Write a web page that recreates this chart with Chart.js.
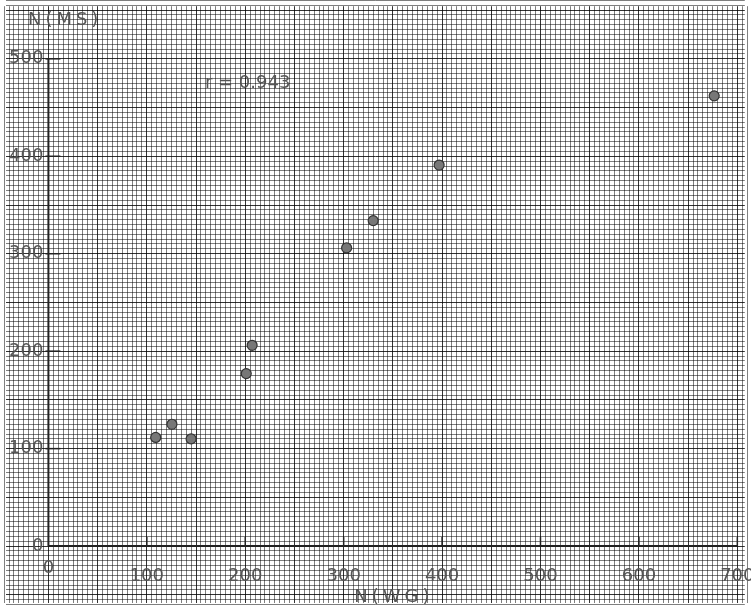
<!DOCTYPE html>
<html>
<head>
<meta charset="utf-8">
<script src="https://cdn.jsdelivr.net/npm/chart.js@4"></script>
<style>
  body { margin: 0; background: #fff; }
  canvas { display: block; }
</style>
</head>
<body>
<canvas id="chart" width="751" height="609"></canvas>
<script>
// data
const nWG = [109, 125.5, 145, 201, 207, 303, 330, 397, 676.5];
const nMS = [111.5, 125, 110, 177, 206, 306, 334, 391, 462];

const xTicks = [0, 100, 200, 300, 400, 500, 600, 700];
const yTicks = [0, 100, 200, 300, 400, 500];
const xTitle = 'N(WG)';
const yTitle = 'N(MS)';
const note = 'r = 0.943';

//Graph paper lines every 5 units
const paperX = [];
for (let v = -50; v <= 715; v += 5) paperX.push(v);
const paperY = [];
for (let v = -65; v <= 560; v += 5) paperY.push(v);

const points = nWG.map((x, i) => ({ x: x, y: nMS[i] }));

function paperColor(ctx) {
    const v = ctx.tick.value;
    if (v % 50 === 0) return 'rgba(0,0,0,0.8)';
    return 'rgba(0,0,0,0.5)';
}

//Ticks, tick labels and titles drawn through the scales
const labelsPlugin = {
    id: 'labels',
    afterDatasetsDraw(chart) {
        const c = chart.ctx;
        const xs = chart.scales.x;
        const ys = chart.scales.y;
        const x0 = xs.getPixelForValue(0);
        const y0 = ys.getPixelForValue(0);
        c.save();
        c.strokeStyle = '#222';
        c.lineWidth = 1.5;
        xTicks.forEach(v => {
            if (v === 0) return;
            const px = xs.getPixelForValue(v);
            c.beginPath();
            c.moveTo(px, y0);
            c.lineTo(px, y0 - 9);
            c.stroke();
        });
        yTicks.forEach(v => {
            if (v === 0) return;
            const py = ys.getPixelForValue(v);
            c.beginPath();
            c.moveTo(x0 - 3, py);
            c.lineTo(x0 + 12, py);
            c.stroke();
        });

        c.fillStyle = '#555';
        c.font = '18px "DejaVu Sans"';
        c.textBaseline = 'middle';
        c.textAlign = 'center';
        xTicks.forEach(v => {
            const px = xs.getPixelForValue(v);
            c.fillText(String(v), px, v === 0 ? y0 + 22 : y0 + 30);
        });
        c.textAlign = 'right';
        yTicks.forEach(v => {
            c.fillText(String(v), x0 - 5, ys.getPixelForValue(v));
        });

        c.textAlign = 'left';
        c.fillText(note, xs.getPixelForValue(159), ys.getPixelForValue(475));

        //axis titles are spaced out on the plot
        c.letterSpacing = '4px';
        c.textAlign = 'center';
        c.fillText(xTitle, xs.getPixelForValue(351), ys.getPixelForValue(-53));
        c.fillText(yTitle, xs.getPixelForValue(17), ys.getPixelForValue(539));
        c.restore();
    }
};

const ctx = document.getElementById('chart').getContext('2d');

new Chart(ctx, {
    type: 'scatter',
    data: {
        datasets: [
            {
                label: 'points',
                data: points,
                pointRadius: 5,
                pointBackgroundColor: '#777',
                pointBorderColor: '#333',
                pointBorderWidth: 1.2
            },
            {
                label: 'x axis',
                data: [{ x: xTicks[0], y: 0 }, { x: xTicks[xTicks.length - 1], y: 0 }],
                showLine: true,
                borderColor: '#222',
                borderWidth: 2,
                pointRadius: 0
            },
            {
                label: 'y axis',
                data: [{ x: 0, y: yTicks[0] }, { x: 0, y: yTicks[yTicks.length - 1] }],
                showLine: true,
                borderColor: '#222',
                borderWidth: 2,
                pointRadius: 0
            }
        ]
    },
    options: {
        responsive: false,
        animation: false,
        layout: { padding: 0 },
        scales: {
            x: {
                type: 'linear',
                min: -42.9,
                max: 707.6,
                afterBuildTicks: (scale) => { scale.ticks = paperX.map(v => ({ value: v })); },
                ticks: { display: false },
                border: { display: false },
                grid: { drawTicks: false, color: paperColor, lineWidth: 1 }
            },
            y: {
                type: 'linear',
                min: -58.2,
                max: 554,
                afterBuildTicks: (scale) => { scale.ticks = paperY.map(v => ({ value: v })); },
                ticks: { display: false },
                border: { display: false },
                grid: { drawTicks: false, color: paperColor, lineWidth: 1 }
            }
        },
        plugins: {
            legend: { display: false },
            tooltip: { enabled: false }
        }
    },
    plugins: [labelsPlugin]
});
</script>
</body>
</html>
